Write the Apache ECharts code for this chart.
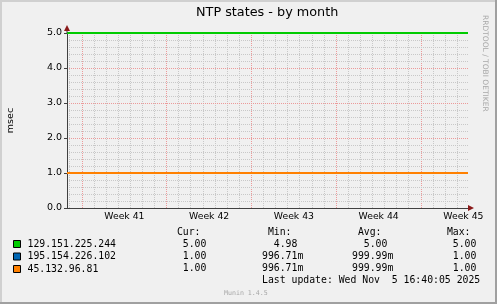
<!DOCTYPE html>
<html><head><meta charset="utf-8">
<script src="https://cdn.jsdelivr.net/npm/echarts@6/dist/echarts.min.js"></script>
<style>html,body{margin:0;padding:0;background:#F0F0F0}#c{width:497px;height:304px}</style>
</head><body><div id="c"></div>
<script>
// ---- data ----
const chartTitle = 'NTP states - by month';
const yAxisName = 'msec';
const weekStarts = [0, 7, 14, 21, 28];            // days (week boundaries)
const weekLabelPos = [3.5, 10.5, 17.5, 24.5, 31.5]; // days (label centres)
const weekLabels = ['Week 41', 'Week 42', 'Week 43', 'Week 44', 'Week 45'];
const dayLines = [-1,1,2,3,4,5,6,8,9,10,11,12,13,15,16,17,18,19,20,22,23,24,25,26,27,29,30,31];
const xMin = -1.24, xMax = 31.88;
const yMin = 0, yMax = 5;
const sampleDays = [-1.24, 2, 6, 10, 14, 18, 22, 26, 30, 31.88];
const seriesNames = ['129.151.225.244', '195.154.226.102', '45.132.96.81'];
const seriesColors = ['#00CC00', '#0066B3', '#FF8000'];
const valsGreen  = [5, 5, 5, 5, 5, 5, 5, 5, 5, 5];
const valsBlue   = [1, 1, 1, 1, 1, 1, 1, 1, 1, 1];
const valsOrange = [1, 1, 1, 1, 1, 1, 1, 1, 1, 1];
const curVals = [5.00, 1.00, 1.00];
const minVals = [4.98, 0.99671, 0.99671];
const avgVals = [5.00, 0.99999, 0.99999];
const maxVals = [5.00, 1.00, 1.00];
const lastUpdate = 'Last update: Wed Nov  5 16:40:05 2025';
const footer = 'Munin 1.4.5';
const sideText = 'RRDTOOL / TOBI OETIKER';

// ---- chart ----
const BG = '#F0F0F0';
const SANS = 'DejaVu Sans';
const MONO = 'DejaVu Sans Mono';
const MINOR = '#c8c8c8';
const MAJOR = '#ec9a9a';
const chart = echarts.init(document.getElementById('c'), null, {renderer: 'canvas'});
const allVals = [valsGreen, valsBlue, valsOrange];
const zip = v => sampleDays.map((d, i) => [d, v[i]]);

const base = {
  animation: false,
  backgroundColor: BG,
  title: {text: chartTitle, left: 196, top: 6, padding: 0,
          textStyle: {fontFamily: SANS, fontSize: 12.8, fontWeight: 'normal', color: '#000'}},
  grid: {left: 67, top: 33, width: 401, height: 175, containLabel: false, outerBoundsMode: 'none'},
  legend: {
    orient: 'vertical', left: 13, top: 238, itemGap: 0.5, padding: 0,
    itemWidth: 7, itemHeight: 7, icon: 'rect', selectedMode: false,
    itemStyle: {borderColor: '#000', borderWidth: 1},
    textStyle: {fontFamily: MONO, fontSize: 9.8, color: '#000', lineHeight: 12, padding: [0, 0, 0, 2]},
    data: seriesNames
  },
  xAxis: {
    type: 'value', min: xMin, max: xMax,
    axisLine: {show: true, onZero: false, lineStyle: {color: '#404040', width: 1}},
    axisTick: {show: false},
    axisLabel: {customValues: weekLabelPos, margin: 4,
      formatter: v => weekLabels[weekLabelPos.indexOf(v)] || '',
      fontFamily: SANS, fontSize: 9.3, color: '#000'},
    splitLine: {show: false}
  },
  yAxis: {
    type: 'value', min: yMin, max: yMax, interval: 1,
    name: yAxisName, nameLocation: 'middle', nameGap: 51, nameRotate: 90,
    nameTextStyle: {fontFamily: SANS, fontSize: 9.5, color: '#000'},
    axisLine: {show: true, onZero: false, lineStyle: {color: '#404040', width: 1}},
    axisTick: {show: true, length: 3, lineStyle: {color: '#404040'}},
    axisLabel: {formatter: v => v.toFixed(1), margin: 5, fontFamily: SANS, fontSize: 9.5, color: '#000'},
    splitLine: {show: true, lineStyle: {type: 'dotted', color: MAJOR, width: 1}},
    minorTick: {show: false, splitNumber: 5},
    minorSplitLine: {show: true, lineStyle: {type: 'dotted', color: MINOR, width: 1}}
  },
  series: seriesNames.map((n, i) => ({
    type: 'line', name: n, data: zip(allVals[i]), showSymbol: false, clip: false, z: 3,
    color: seriesColors[i], lineStyle: {color: seriesColors[i], width: 2}
  }))
};
chart.setOption(base);

const g = [];
// vertical grid lines, placed through the x-axis scale, snapped to crisp pixels
const yTop = chart.convertToPixel({gridIndex: 0}, [xMin, yMax])[1];
const yBot = chart.convertToPixel({gridIndex: 0}, [xMin, yMin])[1];
const vline = (d, color) => {
  const x = Math.floor(chart.convertToPixel({gridIndex: 0}, [d, yMin])[0]) + 0.5;
  return {type: 'line', silent: true, z: -1,
    shape: {x1: x, y1: yBot, x2: x, y2: yTop},
    style: {stroke: color, lineWidth: 1, lineDash: [1, 1]}};
};
dayLines.forEach(d => g.push(vline(d, MINOR)));
weekStarts.forEach(d => g.push(vline(d, MAJOR)));

const fmt = v => v < 1 ? (v * 1000).toFixed(2) + 'm' : v.toFixed(2) + ' ';
const pad = s => s.padStart(7, ' ');
const cols = [[171, 'Cur:', curVals], [262, 'Min:', minVals], [352, 'Avg:', avgVals], [441, 'Max:', maxVals]];
const rowY = [244, 256.3, 268.5];
const mono = (x, y, t, c) => ({type: 'text', x, y, silent: true,
  style: {text: t, fontFamily: MONO, fontSize: 9.8, fill: c || '#000', textAlign: 'left', textVerticalAlign: 'middle'}});
cols.forEach(([x, h, vals]) => {
  g.push(mono(x, 232, pad(h + '  ')));
  vals.forEach((v, i) => g.push(mono(x, rowY[i], pad(fmt(v)))));
});
g.push(mono(262, 280, lastUpdate));
g.push({type: 'text', x: 224, y: 293, silent: true,
  style: {text: footer, fontFamily: MONO, fontSize: 6.6, fill: '#a8a8a8', textVerticalAlign: 'middle'}});
g.push({type: 'text', x: 485, y: 15, rotation: -Math.PI / 2, silent: true,
  style: {text: sideText, fontFamily: SANS, fontSize: 7.5, fill: '#a8a8a8', textAlign: 'left', textVerticalAlign: 'middle'}});

// axis arrows
const p0 = chart.convertToPixel({gridIndex: 0}, [xMin, yMin]);
const p1 = chart.convertToPixel({gridIndex: 0}, [xMax, yMax]);
const AR = '#8a1a1a';
g.push({type: 'polygon', silent: true, z: 10, shape: {points: [[p1[0], p0[1] - 3], [p1[0] + 6, p0[1]], [p1[0], p0[1] + 3]]}, style: {fill: AR}});
g.push({type: 'line', silent: true, z: 10, shape: {x1: p0[0], y1: p1[1], x2: p0[0], y2: p1[1] - 3}, style: {stroke: '#404040', lineWidth: 1}});
g.push({type: 'polygon', silent: true, z: 10, shape: {points: [[p0[0] - 3, p1[1] - 2], [p0[0], p1[1] - 8], [p0[0] + 3, p1[1] - 2]]}, style: {fill: AR}});
// 3D frame
g.push({type: 'rect', silent: true, shape: {x: 0, y: 0, width: 497, height: 2}, style: {fill: '#D0D0D0'}});
g.push({type: 'rect', silent: true, shape: {x: 0, y: 0, width: 2, height: 304}, style: {fill: '#D0D0D0'}});
g.push({type: 'rect', silent: true, shape: {x: 495, y: 0, width: 2, height: 304}, style: {fill: '#A0A0A0'}});
g.push({type: 'rect', silent: true, shape: {x: 0, y: 302, width: 497, height: 2}, style: {fill: '#A0A0A0'}});
chart.setOption({graphic: g});
</script></body></html>
